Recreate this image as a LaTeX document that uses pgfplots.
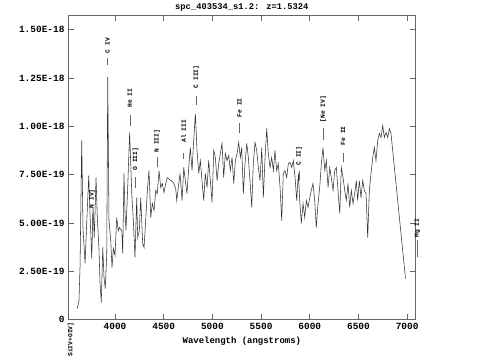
\documentclass[border=0pt]{standalone}
\usepackage{fontspec}
\setmainfont{Liberation Mono}
\usepackage{pgfplots}
\pgfplotsset{compat=1.18}
\begin{document}
\begin{tikzpicture}
\begin{axis}[
  scale only axis, width=347.7bp, height=304bp,
  xmin=3517, xmax=7088, ymin=0, ymax=1.5735,
  axis line style={black!60, line width=0.7pt},
  major tick style={black!60, line width=0.7pt},
  major tick length=6bp,
  tick align=inside,
  xtick={4000,4500,5000,5500,6000,6500,7000},
  xticklabels={4000,4500,5000,5500,6000,6500,7000},
  ytick={0,0.25,0.5,0.75,1.0,1.25,1.5},
  yticklabels={0,2.50E-19,5.00E-19,7.50E-19,1.00E-18,1.25E-18,1.50E-18},
  ticklabel style={font=\fontsize{9.5}{10}\selectfont\bfseries},
  xlabel={Wavelength (angstroms)},
  xlabel style={font=\fontsize{9}{10}\selectfont\bfseries, yshift=-1bp},
  title={spc\_403534\_s1.2: z=1.5324},
  title style={font=\fontsize{8.8}{10}\selectfont\bfseries, yshift=-5bp},
  clip=false,
]
\addplot[black!80, line width=0.55pt] coordinates {
(3613,0.057)(3630,0.098)(3641,0.280)(3658,0.927)(3671,0.476)(3692,0.290)
(3709,0.497)(3730,0.745)(3743,0.549)(3761,0.316)(3774,0.580)(3787,0.424)
(3805,0.735)(3818,0.528)(3836,0.357)(3846,0.186)(3859,0.088)(3874,0.373)
(3887,0.217)(3900,0.160)(3915,0.342)(3925,1.255)(3938,0.512)(3956,0.409)
(3969,0.269)(3983,0.367)(4000,0.331)(4017,0.528)(4034,0.461)(4044,0.476)
(4069,0.461)(4079,0.342)(4092,0.756)(4103,0.549)(4113,0.461)(4130,0.683)
(4150,0.968)(4172,0.652)(4188,0.512)(4205,0.321)(4223,0.631)(4233,0.424)
(4250,0.461)(4264,0.631)(4284,0.393)(4298,0.373)(4315,0.512)(4332,0.668)
(4349,0.771)(4367,0.528)(4383,0.600)(4401,0.564)(4418,0.668)(4434,0.652)
(4452,0.771)(4469,0.683)(4486,0.704)(4503,0.657)(4521,0.704)(4537,0.735)
(4560,0.725)(4580,0.718)(4599,0.709)(4623,0.678)(4634,0.616)(4650,0.683)
(4668,0.756)(4688,0.616)(4706,0.787)(4722,0.719)(4739,0.652)(4757,0.787)
(4773,0.890)(4791,0.771)(4808,0.927)(4825,1.066)(4842,0.875)(4860,0.756)
(4876,0.823)(4893,0.719)(4911,0.616)(4927,0.756)(4945,0.683)(4962,0.823)
(4979,0.719)(4996,0.606)(5014,0.875)(5030,0.839)(5048,0.719)(5065,0.807)
(5081,0.859)(5099,0.911)(5116,0.735)(5133,0.859)(5150,0.823)(5168,0.849)
(5184,0.771)(5202,0.839)(5219,0.704)(5236,0.823)(5253,0.859)(5270,0.916)
(5287,0.839)(5301,0.890)(5318,0.652)(5335,0.807)(5353,0.911)(5369,0.839)
(5386,0.719)(5404,0.580)(5420,0.807)(5438,0.916)(5455,0.875)(5472,0.787)
(5489,0.719)(5507,0.890)(5523,0.631)(5541,0.839)(5558,0.989)(5574,0.859)
(5592,0.787)(5609,0.839)(5626,0.771)(5643,0.875)(5660,0.771)(5677,0.807)
(5695,0.683)(5712,0.512)(5728,0.756)(5746,0.771)(5763,0.735)(5780,0.807)
(5797,0.813)(5815,0.787)(5831,0.823)(5849,0.735)(5866,0.616)(5883,0.756)
(5897,0.616)(5913,0.497)(5931,0.600)(5948,0.528)(5965,0.616)(5982,0.580)
(6000,0.631)(6016,0.668)(6033,0.704)(6051,0.616)(6067,0.476)(6085,0.600)
(6102,0.683)(6119,0.807)(6136,0.890)(6154,0.771)(6170,0.823)(6188,0.683)
(6205,0.787)(6221,0.735)(6239,0.668)(6256,0.771)(6273,0.787)(6290,0.668)
(6308,0.549)(6324,0.787)(6342,0.735)(6359,0.668)(6375,0.616)(6393,0.704)
(6410,0.580)(6427,0.668)(6444,0.600)(6461,0.652)(6478,0.719)(6492,0.616)
(6509,0.719)(6526,0.631)(6544,0.719)(6560,0.668)(6578,0.652)(6595,0.424)
(6612,0.668)(6629,0.756)(6647,0.839)(6663,0.890)(6680,0.823)(6698,0.927)
(6714,0.963)(6732,0.942)(6749,1.004)(6766,0.942)(6783,0.968)(6801,0.942)
(6817,0.989)(6834,0.963)(6983,0.212)
};
% line identification labels
\begin{scope}[every node/.style={font=\fontsize{6.3}{7}\selectfont\bfseries, rotate=90, inner sep=0pt}]
\draw[black!60] (axis cs:3923,1.315) -- (axis cs:3923,1.351);
\node[anchor=west] at (axis cs:3923,1.377) {C IV};
\draw[black!60] (axis cs:4153,1.004) -- (axis cs:4153,1.056);
\node[anchor=west] at (axis cs:4153,1.097) {He II};
\draw[black!60] (axis cs:4211,0.683) -- (axis cs:4211,0.740);
\node[anchor=west] at (axis cs:4211,0.771) {O III]};
\draw[black!60] (axis cs:4432,0.787) -- (axis cs:4432,0.839);
\node[anchor=west] at (axis cs:4432,0.864) {N III]};
\draw[black!60] (axis cs:4703,0.833) -- (axis cs:4703,0.864);
\node[anchor=west] at (axis cs:4703,0.916) {Al III};
\draw[black!60] (axis cs:4834,1.108) -- (axis cs:4834,1.159);
\node[anchor=west] at (axis cs:4834,1.196) {C III]};
\draw[black!60] (axis cs:5279,0.963) -- (axis cs:5279,1.015);
\node[anchor=west] at (axis cs:5279,1.046) {Fe II};
\draw[black!60] (axis cs:5890,0.720) -- (axis cs:5890,0.771);
\node[anchor=west] at (axis cs:5890,0.797) {C II]};
\draw[black!60] (axis cs:6138,0.927) -- (axis cs:6138,0.989);
\node[anchor=west] at (axis cs:6138,1.020) {[Ne IV]};
\draw[black!60] (axis cs:6342,0.813) -- (axis cs:6342,0.864);
\node[anchor=west] at (axis cs:6342,0.901) {Fe II};
\draw[black!60] (axis cs:7100,0.321) -- (axis cs:7100,0.409);
\node[anchor=west] at (axis cs:7105,0.424) {Mg II};
\draw[black!60] (axis cs:3763,0.500) -- (axis cs:3763,0.545);
\node[anchor=west] at (axis cs:3763,0.575) {N IV]};
\node[anchor=east] at (axis cs:3545,-0.0155) {SiIV+OIV]};
\end{scope}
\coordinate (SW) at (rel axis cs:0,0);
\coordinate (NE) at (rel axis cs:1,1);
\end{axis}
\path (SW) ++(-68bp,-39bp) coordinate (BB1);
\path (NE) ++(67.3bp,15bp) coordinate (BB2);
\path (BB1) rectangle (BB2);
\end{tikzpicture}
\end{document}
